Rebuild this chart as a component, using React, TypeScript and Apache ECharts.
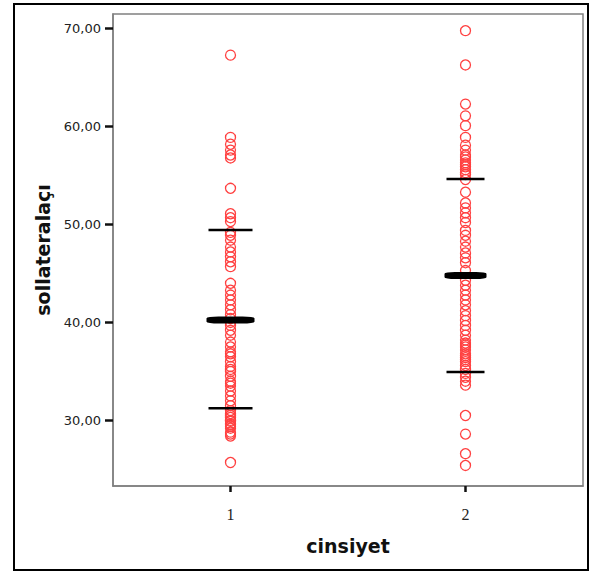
import React, { useEffect, useRef } from "react";
import * as echarts from "echarts";

// ---- data ----
const categories = ["1", "2"];
const group1 = [
  67.3, 58.9, 58.2, 57.6, 57.1, 56.8, 53.7, 51.1, 50.7, 50.3, 49.2, 48.9, 48.4,
  47.7, 47.2, 46.7, 46.2, 45.7, 44.0, 43.3, 42.8, 42.3, 41.8, 41.3, 40.8, 40.4,
  40.0, 39.7, 39.2, 38.7, 38.0, 37.5, 37.0, 36.8, 36.5, 36.0, 35.5, 35.2, 35.0,
  34.5, 34.0, 33.8, 33.5, 33.0, 32.5, 32.0, 31.5, 31.0, 30.7, 30.5, 30.3, 30.0,
  29.9, 29.6, 29.4, 29.2, 28.8, 28.6, 28.4, 25.7,
];
const group2 = [
  69.8, 66.3, 62.3, 61.1, 60.1, 58.9, 58.1, 57.6, 57.1, 56.9, 56.6, 56.3, 56.1,
  55.9, 55.6, 55.3, 55.1, 54.6, 53.3, 52.2, 51.7, 51.2, 50.7, 50.2, 49.4, 48.9,
  48.3, 47.7, 47.1, 46.6, 46.1, 45.3, 44.3, 43.8, 43.3, 42.8, 42.3, 41.8, 41.2,
  40.7, 40.2, 39.7, 39.2, 38.7, 38.2, 37.9, 37.7, 37.5, 37.2, 36.8, 36.6, 36.4,
  36.2, 36.0, 35.6, 35.2, 34.8, 34.4, 34.0, 33.6, 30.5, 28.6, 26.6, 25.4,
];
const means = [40.25, 44.8];
const upperSD = [49.45, 54.66];
const lowerSD = [31.25, 34.93];
const yTicks = [30, 40, 50, 60, 70];
const xTicks = [1, 2];

// ---- styles ----
const meanWidths = [48, 42];
const sdWidths = [44, 38];
const pointColor = "#ff4040";

export default function App() {
  const ref = useRef<HTMLDivElement>(null);
  useEffect(() => {
    if (!ref.current) return;
    const chart = echarts.init(ref.current, null, { renderer: "svg" });
    const groups = [group1, group2];
    const pointSeries = groups.map((g, i) => ({
      type: "scatter",
      name: categories[i],
      data: g.map((v) => [i + 1, v]),
      symbol: "circle",
      symbolSize: 10,
      itemStyle: {
        color: "rgba(255,255,255,0)",
        borderColor: pointColor,
        borderWidth: 1.3,
        opacity: 1,
      },
      z: 2,
    }));
    const sdData = [
      ...upperSD.map((v, i) => [i + 1, v]),
      ...lowerSD.map((v, i) => [i + 1, v]),
    ];
    const option = {
      animation: false,
      backgroundColor: "#ffffff",
      grid: {
        left: 113,
        right: 9,
        top: 14,
        bottom: 90,
        show: true,
        borderColor: "#808080",
        borderWidth: 1.5,
        backgroundColor: "#ffffff",
      },
      xAxis: {
        type: "value",
        min: 0.5,
        max: 2.5,
        name: "cinsiyet",
        nameLocation: "middle",
        nameGap: 50,
        nameTextStyle: {
          fontFamily: "DejaVu Sans",
          fontWeight: "bold",
          fontSize: 19,
          color: "#111",
        },
        axisLine: { show: true, lineStyle: { color: "#808080", width: 1.5 } },
        axisTick: {
          show: true,
          length: 6,
          customValues: xTicks,
          lineStyle: { color: "#111", width: 2.5 },
        },
        axisLabel: {
          customValues: xTicks,
          margin: 20,
          formatter: (v: number) => categories[Math.round(v) - 1] ?? "",
          fontFamily: "Liberation Serif",
          fontSize: 16,
          color: "#222",
        },
        splitLine: { show: false },
      },
      yAxis: {
        type: "value",
        min: 23.3,
        max: 71.5,
        name: "sollateralaçı",
        nameLocation: "middle",
        nameGap: 53,
        nameTextStyle: {
          fontFamily: "DejaVu Sans",
          fontWeight: "bold",
          fontSize: 19,
          color: "#111",
        },
        axisLine: { show: true, lineStyle: { color: "#808080", width: 1.5 } },
        axisTick: {
          show: true,
          length: 8,
          customValues: yTicks,
          lineStyle: { color: "#111", width: 2.5 },
        },
        axisLabel: {
          customValues: yTicks,
          margin: 12,
          formatter: (v: number) => v.toFixed(2).replace(".", ","),
          fontFamily: "DejaVu Sans",
          fontSize: 13,
          color: "#222",
        },
        splitLine: { show: false },
      },
      series: [
        ...pointSeries,
        {
          type: "scatter",
          name: "mean",
          data: means.map((v, i) => [i + 1, v]),
          symbol: "roundRect",
          symbolSize: (_v: any, p: any) => [meanWidths[p.dataIndex], 7],
          itemStyle: { color: "#000", opacity: 1 },
          z: 3,
        },
        {
          type: "scatter",
          name: "sd",
          data: sdData,
          symbol: "rect",
          symbolSize: (_v: any, p: any) => [sdWidths[p.dataIndex % 2], 2.5],
          itemStyle: { color: "#000", opacity: 1 },
          z: 3,
        },
      ],
      graphic: [
        {
          type: "rect",
          shape: { x: 14, y: 4, width: 574, height: 566 },
          style: { fill: "none", stroke: "#000", lineWidth: 2 },
          silent: true,
          z: 10,
        },
      ],
    };
    chart.setOption(option as any);
    return () => chart.dispose();
  }, []);
  return (
    <div
      ref={ref}
      style={{ position: "fixed", left: 0, top: 0, width: 592, height: 576 }}
    />
  );
}
